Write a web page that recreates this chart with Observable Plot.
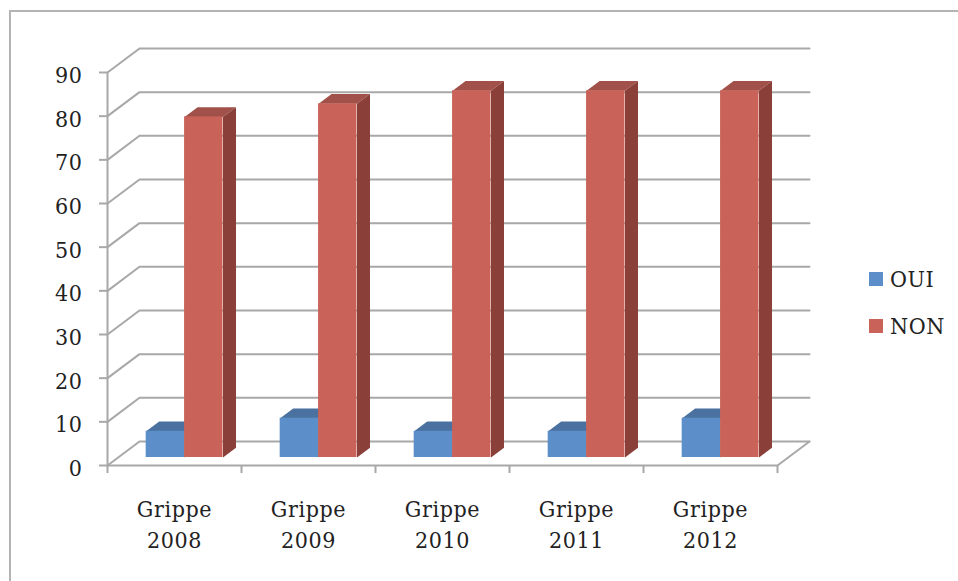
<!DOCTYPE html>
<html lang="fr">
<head>
<meta charset="utf-8">
<script src="https://cdn.jsdelivr.net/npm/d3@7"></script>
<script src="https://cdn.jsdelivr.net/npm/@observablehq/plot@0.6"></script>
<style>
  html, body { margin: 0; padding: 0; background: #fff; overflow: hidden; }
  #stage { position: relative; width: 958px; height: 581px; }
  #frame { position: absolute; left: 9px; top: 10px; right: 0; bottom: 0;
           border-left: 2px solid #b4b4b4; border-top: 2px solid #b4b4b4; }
  #chart { position: absolute; left: 0; top: 0; }
  #legend { position: absolute; left: 869px; top: 256px;
            font: 23px "DejaVu Serif Condensed", "DejaVu Serif", serif; font-stretch: condensed; letter-spacing: 0.6px; color: #222; }
  #legend div { display: flex; align-items: center; height: 46.5px; }
  #legend i { width: 14px; height: 14px; margin-right: 7px; display: block; }
</style>
</head>
<body>
<div id="stage">
  <div id="frame"></div>
  <div id="chart"></div>
  <div id="legend"></div>
</div>
<script>
// Vaccination answers per flu season
const categories = ["Grippe 2008", "Grippe 2009", "Grippe 2010", "Grippe 2011", "Grippe 2012"];
const seriesNames = ["OUI", "NON"];
const oui = [6, 9, 6, 6, 9];
const non = [78, 81, 84, 84, 84];
const yTicks = [0, 10, 20, 30, 40, 50, 60, 70, 80, 90];

const frontColors = {OUI: "#5c8fc9", NON: "#c96359"};
const topColors = {OUI: "#4a719f", NON: "#a1504a"};
const sideColors = {OUI: "#3d5f88", NON: "#8a4039"};
const gridColor = "#a8a8a8";

// Oblique projection: full chart depth expressed in scale units
const depthX = 0.2388;
const depthY = 5.5;
// Bars occupy this slice of the depth
const barFront = 1 / 3;
const barBack = 0.74;
// Horizontal layout inside one category band
const bandInset = 0.209;
const barWidth = 0.2866;

const project = (x, y, f) => ({x: x + f * depthX, y: y + f * depthY});

const boxes = seriesNames.flatMap((name, s) =>
  (s === 0 ? oui : non).map((value, i) => ({
    name, value, i,
    x0: i + bandInset + s * barWidth,
    x1: i + bandInset + (s + 1) * barWidth
  }))
);

// Flatten a list of polygons into rows that a filled line can draw
const polygons = (rows, corners) =>
  rows.flatMap((b, k) => corners(b).map((p) => ({...p, key: k})));

const topFace = (b) => [
  project(b.x0, b.value, barFront), project(b.x1, b.value, barFront),
  project(b.x1, b.value, barBack), project(b.x0, b.value, barBack)
];
const sideFace = (b) => [
  project(b.x1, 0, barFront), project(b.x1, b.value, barFront),
  project(b.x1, b.value, barBack), project(b.x1, 0, barBack)
];

const wallLines = yTicks.flatMap((v) => [
  {...project(0, v, 0), key: v},
  {...project(0, v, 1), key: v},
  {...project(categories.length, v, 1), key: v}
]);
const floorEdge = [
  project(0, 0, 0),
  project(categories.length, 0, 0),
  project(categories.length, 0, 1)
];
const yAxisLine = [{x: 0, y: 0}, {x: 0, y: 90}];

const barMarks = seriesNames.flatMap((name) => {
  const rows = boxes.filter((b) => b.name === name);
  return [
    Plot.line(polygons(rows, topFace), {x: "x", y: "y", z: "key", fill: topColors[name], stroke: "none"}),
    Plot.line(polygons(rows, sideFace), {x: "x", y: "y", z: "key", fill: sideColors[name], stroke: "none"}),
    Plot.rect(rows, {
      x1: (b) => project(b.x0, 0, barFront).x,
      x2: (b) => project(b.x1, 0, barFront).x,
      y1: () => project(0, 0, barFront).y,
      y2: (b) => project(0, b.value, barFront).y,
      fill: frontColors[name]
    })
  ];
});

const chart = Plot.plot({
  width: 958,
  height: 581,
  marginLeft: 107,
  marginRight: 181,
  marginTop: 72,
  marginBottom: 116,
  x: {domain: [0, categories.length], axis: null},
  y: {domain: [0, 90], axis: null},
  style: {fontFamily: "'DejaVu Serif Condensed', 'DejaVu Serif', serif", fontStretch: "condensed", fontSize: "23px", letterSpacing: "0.6px", background: "transparent", color: "#222"},
  marks: [
    Plot.line(wallLines, {x: "x", y: "y", z: "key", stroke: gridColor, strokeWidth: 2}),
    Plot.line(floorEdge, {x: "x", y: "y", stroke: gridColor, strokeWidth: 2}),
    Plot.line(yAxisLine, {x: "x", y: "y", stroke: gridColor, strokeWidth: 2}),
    Plot.axisY({ticks: yTicks, tickSize: 8, text: null, stroke: gridColor, strokeWidth: 2, label: null}),
    Plot.axisY({ticks: yTicks, tickSize: 0, tickPadding: 25, dy: 3, label: null, fontSize: 23, fill: "#222"}),
    Plot.axisX({ticks: d3.range(categories.length + 1), tickSize: 8, text: null, stroke: gridColor, strokeWidth: 2, label: null}),
    ...barMarks,
    Plot.text(categories, {
      x: (d, i) => i + 0.5,
      y: () => 0,
      text: (d) => d.replace(" ", "\n"),
      dy: 30,
      lineAnchor: "top",
      lineHeight: 1.33,
      fontSize: 23,
      fill: "#222"
    })
  ]
});
document.getElementById("chart").append(chart);

// Legend sits beside the plot area
const legend = d3.select("#legend");
seriesNames.forEach((name) => {
  const row = legend.append("div");
  row.append("i").style("background", frontColors[name]);
  row.append("span").text(name);
});
</script>
</body>
</html>
